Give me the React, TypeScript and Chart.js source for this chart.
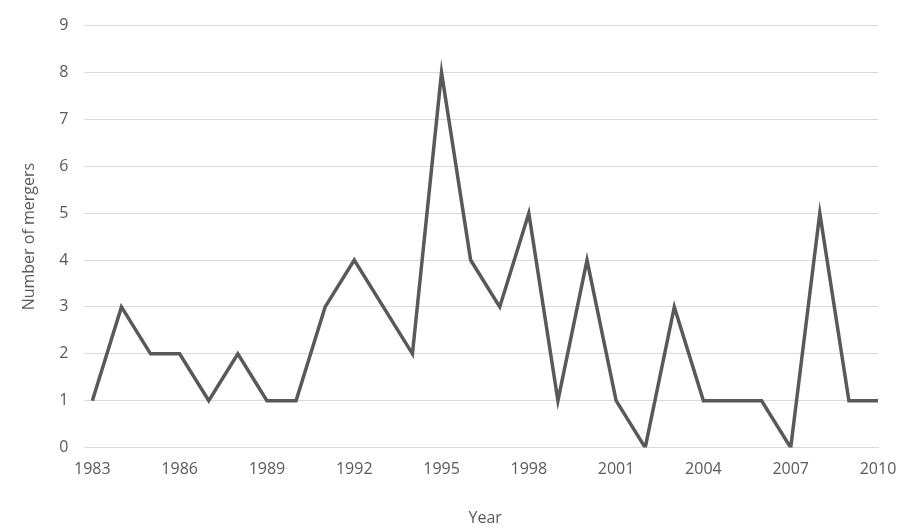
import { useEffect, useRef } from "react"
import { Chart, type ChartConfiguration, registerables } from "chart.js"

Chart.register(...registerables)

const years = [
  "1983", "1984", "1985", "1986", "1987", "1988", "1989", "1990", "1991", "1992",
  "1993", "1994", "1995", "1996", "1997", "1998", "1999", "2000", "2001", "2002",
  "2003", "2004", "2005", "2006", "2007", "2008", "2009", "2010",
]
const mergers = [1, 3, 2, 2, 1, 2, 1, 1, 3, 4, 3, 2, 8, 4, 3, 5, 1, 4, 1, 0, 3, 1, 1, 1, 0, 5, 1, 1]

const grey = "#595959"
const font = { family: "'Open Sans', 'Noto Sans', sans-serif", size: 16 }

export default function App() {
  const chartRef = useRef<HTMLCanvasElement>(null)
  const chartInstance = useRef<Chart | null>(null)

  useEffect(() => {
    document.body.style.margin = "0"
    if (!chartRef.current) return
    const ctx = chartRef.current.getContext("2d")
    if (!ctx) return
    if (chartInstance.current) chartInstance.current.destroy()

    const config: ChartConfiguration = {
      type: "line",
      data: {
        labels: years,
        datasets: [
          {
            label: "Number of mergers",
            data: mergers,
            borderColor: grey,
            borderWidth: 3.5,
            borderJoinStyle: "miter",
            pointRadius: 0,
            tension: 0,
            fill: false,
          },
        ],
      },
      options: {
        responsive: true,
        maintainAspectRatio: false,
        animation: false,
        layout: { padding: { left: 16, right: 27, top: -17, bottom: 3 } },
        plugins: { legend: { display: false }, tooltip: { enabled: false } },
        scales: {
          x: {
            offset: false,
            grid: { display: false },
            border: { color: "#d9d9d9" },
            ticks: {
              color: grey,
              font,
              autoSkip: false,
              maxRotation: 0,
              padding: 4,
              callback: (_v, i) => (i % 3 === 0 ? years[i] : ""),
            },
            title: { display: true, text: "Year", color: grey, font, padding: { top: 26, bottom: 0 } },
          },
          y: {
            min: 0,
            max: 9,
            grid: { color: "#d9d9d9", lineWidth: 1 },
            border: { display: false },
            ticks: { stepSize: 1, color: grey, font, padding: 16 },
            title: { display: true, text: "Number of mergers", color: grey, font },
          },
        },
      },
    }

    chartInstance.current = new Chart(ctx, config)
    return () => {
      if (chartInstance.current) chartInstance.current.destroy()
    }
  }, [])

  return (
    <div style={{ width: 905, height: 531 }}>
      <canvas ref={chartRef} />
    </div>
  )
}
